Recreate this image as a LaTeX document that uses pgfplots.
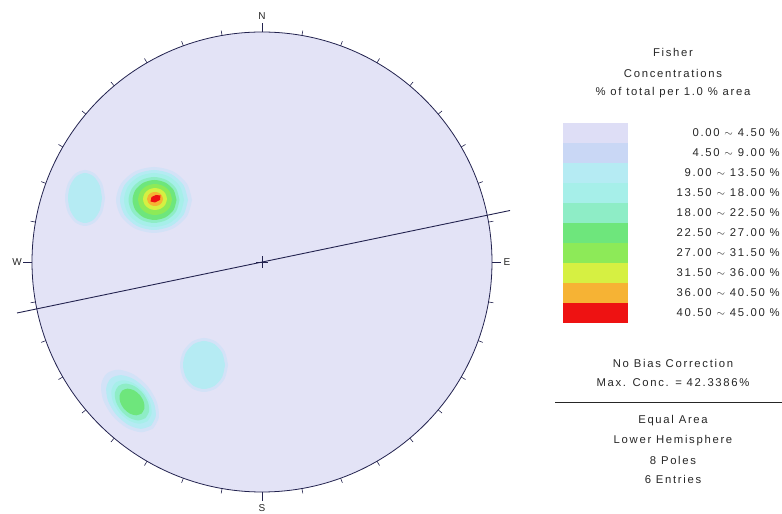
\documentclass[border=0pt]{standalone}
\usepackage{fontspec}
\setmainfont{Liberation Sans}
\newfontfamily\lgf[LetterSpace=15]{Liberation Sans}
\usepackage{pgfplots}
\pgfplotsset{compat=1.18}
\usetikzlibrary{calc}
\definecolor{bg}{HTML}{E3E3F6}
\definecolor{c1}{HTML}{DEDEF6}
\definecolor{c2}{HTML}{C9D7F5}
\definecolor{c2b}{HTML}{D3E2F7}
\definecolor{c3}{HTML}{B5EBF3}
\definecolor{c4}{HTML}{A6EFE9}
\definecolor{c5}{HTML}{8EEDC6}
\definecolor{c6}{HTML}{6EE67C}
\definecolor{c7}{HTML}{8DEA58}
\definecolor{c8}{HTML}{D6F042}
\definecolor{c9}{HTML}{F6B334}
\definecolor{c10}{HTML}{EE1212}
\definecolor{net}{HTML}{23234F}
\definecolor{txt}{HTML}{262626}
\begin{document}
\begin{tikzpicture}
\useasboundingbox (0,0) rectangle (782pt,514pt);
\begin{axis}[at={(0,0)}, anchor=south west, width=782pt, height=514pt, scale only axis,
  xmin=0, xmax=782, ymin=0, ymax=514, hide axis, clip=false]
\fill[bg] (axis cs:262,252) circle[radius=230pt];
% ---- blob 1 (main cluster)
\addplot[fill=c2b, draw=none, smooth] coordinates {(192,314) (186.9,330.5) (173,342.6) (154,347) (135,342.6) (121.1,330.5) (116,314) (121.1,297.5) (135,285.4) (154,281) (173,285.4) (186.9,297.5) (192,314)};
\addplot[fill=c3, draw=none, smooth] coordinates {(188,314) (183.4,329) (171,340) (154,344) (137,340) (124.6,329) (120,314) (124.6,299) (137,288) (154,284) (171,288) (183.4,299) (188,314)};
\addplot[fill=c4, draw=none, smooth] coordinates {(184,314) (180,327.5) (169,337.4) (154,341) (139,337.4) (128,327.5) (124,314) (128,300.5) (139,290.6) (154,287) (169,290.6) (180,300.5) (184,314)};
\addplot[fill=c5, draw=none, smooth] coordinates {(179.5,314) (176.1,325.5) (166.75,333.9) (154,337) (141.25,333.9) (131.9,325.5) (128.5,314) (131.9,302.5) (141.25,294.1) (154,291) (166.75,294.1) (176.1,302.5) (179.5,314)};
\addplot[fill=c6, draw=none, smooth] coordinates {(176.5,314) (173.55,324) (165.5,331.3) (154.5,334) (143.5,331.3) (135.45,324) (132.5,314) (135.45,304) (143.5,296.7) (154.5,294) (165.5,296.7) (173.55,304) (176.5,314)};
\addplot[fill=c7, draw=none, smooth] coordinates {(172,314.5) (169.7,322.25) (163.5,327.9) (155,330) (146.5,327.9) (140.3,322.25) (138,314.5) (140.3,306.75) (146.5,301.1) (155,299) (163.5,301.1) (169.7,306.75) (172,314.5)};
\addplot[fill=c8, draw=none, smooth] coordinates {(167,315) (165.4,320.5) (161,324.5) (155,326) (149,324.5) (144.6,320.5) (143,315) (144.6,309.5) (149,305.5) (155,304) (161,305.5) (165.4,309.5) (167,315)};
\addplot[fill=c9, draw=none, smooth] coordinates {(163,315) (161.9,318.5) (159,321.1) (155,322) (151,321.1) (148.1,318.5) (147,315) (148.1,311.5) (151,308.9) (155,308) (159,308.9) (161.9,311.5) (163,315)};
\addplot[fill=c10, draw=none] coordinates {(150.5,312.5) (151.5,317) (156,319) (160.5,318.5) (160,314) (155,311.5)};
% ---- blob 2 (left)
\addplot[fill=c2b, draw=none, smooth] coordinates {(105,316) (102.3,330) (95,340.2) (85,344) (75,340.2) (67.7,330) (65,316) (67.7,302) (75,291.8) (85,288) (95,291.8) (102.3,302) (105,316)};
\addplot[fill=c3, draw=none, smooth] coordinates {(102,316) (99.7,328.5) (93.5,337.7) (85,341) (76.5,337.7) (70.3,328.5) (68,316) (70.3,303.5) (76.5,294.3) (85,291) (93.5,294.3) (99.7,303.5) (102,316)};
% ---- blob 3 (lower middle)
\addplot[fill=c2b, draw=none, smooth] coordinates {(228,149) (224.8,162.5) (216,172.4) (204,176) (192,172.4) (183.2,162.5) (180,149) (183.2,135.5) (192,125.6) (204,122) (216,125.6) (224.8,135.5) (228,149)};
\addplot[fill=c3, draw=none, smooth] coordinates {(225,149) (222.2,161) (214.5,169.8) (204,173) (193.5,169.8) (185.8,161) (183,149) (185.8,137) (193.5,128.2) (204,125) (214.5,128.2) (222.2,137) (225,149)};
% ---- blob 4 (lower left)
\addplot[fill=c2b, draw=none, smooth] coordinates {(153.15,85.42) (158.86,96.52) (156.84,112.02) (147.62,127.79) (133.68,139.6) (118.76,144.28) (106.85,140.58) (101.14,129.48) (103.16,113.98) (112.38,98.21) (126.32,86.4) (141.24,81.72) (153.15,85.42)};
\addplot[fill=c3, draw=none, smooth] coordinates {(150.93,88.25) (155.73,97.7) (153.91,110.98) (145.94,124.54) (133.97,134.74) (121.21,138.84) (111.07,135.75) (106.27,126.3) (108.09,113.02) (116.06,99.46) (128.03,89.26) (140.79,85.16) (150.93,88.25)};
\addplot[fill=c4, draw=none, smooth] coordinates {(147.58,92.85) (151.56,100.57) (150.16,111.33) (143.76,122.29) (134.08,130.49) (123.7,133.73) (115.42,131.15) (111.44,123.43) (112.84,112.67) (119.24,101.71) (128.92,93.51) (139.3,90.27) (147.58,92.85)};
\addplot[fill=c5, draw=none, smooth] coordinates {(145.5,95.91) (149.05,102.57) (148.03,111.74) (142.72,121) (134.53,127.84) (125.67,130.43) (118.5,128.09) (114.95,121.43) (115.97,112.26) (121.28,103) (129.47,96.16) (138.33,93.57) (145.5,95.91)};
\addplot[fill=c6, draw=none, smooth] coordinates {(141.65,100.51) (144.38,105.43) (143.79,112.1) (140.04,118.75) (134.13,123.6) (127.66,125.33) (122.35,123.49) (119.62,118.57) (120.21,111.9) (123.96,105.25) (129.87,100.4) (136.34,98.67) (141.65,100.51)};
% ---- net outline and great circle
\draw[net, line width=0.8pt] (axis cs:262,252) circle[radius=230pt];
\addplot[net, line width=0.9pt] coordinates {(17,201) (510,303.5)};
\coordinate (C) at (axis cs:262,252);
% ---- legend swatches
\addplot[fill=c1, draw=none] coordinates {(563,391) (628,391) (628,371) (563,371)};
\addplot[fill=c2, draw=none] coordinates {(563,371) (628,371) (628,351) (563,351)};
\addplot[fill=c3, draw=none] coordinates {(563,351) (628,351) (628,331) (563,331)};
\addplot[fill=c4, draw=none] coordinates {(563,331) (628,331) (628,311) (563,311)};
\addplot[fill=c5, draw=none] coordinates {(563,311) (628,311) (628,291) (563,291)};
\addplot[fill=c6, draw=none] coordinates {(563,291) (628,291) (628,271) (563,271)};
\addplot[fill=c7, draw=none] coordinates {(563,271) (628,271) (628,251) (563,251)};
\addplot[fill=c8, draw=none] coordinates {(563,251) (628,251) (628,231) (563,231)};
\addplot[fill=c9, draw=none] coordinates {(563,231) (628,231) (628,211) (563,211)};
\addplot[fill=c10, draw=none] coordinates {(563,211) (628,211) (628,191) (563,191)};
\addplot[txt, line width=0.9pt] coordinates {(555,112) (782,112)};
\end{axis}
\foreach \a in {0,10,...,350} \draw[net, line width=0.6pt] (C) ++(\a:230pt) -- ++(\a:5pt);
\foreach \a in {0,90,180,270} \draw[net, line width=0.8pt] (C) ++(\a:230pt) -- ++(\a:9pt);
\draw[net, line width=0.9pt] (C) ++(-6pt,0) -- ++(12pt,0) (C) ++(0,-6pt) -- ++(0,12pt);
\begin{scope}[every node/.style={font=\lgf\fontsize{10}{11}\selectfont, text=txt, inner sep=0pt}]
\node at ($(C)+(0,246pt)$) {N};
\node at ($(C)+(0,-246pt)$) {S};
\node at ($(C)+(-245pt,0)$) {W};
\node at ($(C)+(245pt,0)$) {E};
\end{scope}
\begin{scope}[every node/.style={font=\lgf\fontsize{11.3}{13}\selectfont, text=txt, inner sep=0pt}]
\node at (673pt,462pt) {Fisher};
\node at (673pt,441pt) {Concentrations};
\node at (673pt,421pt) {\% of total per 1.0 \% area};
\node[anchor=east] at (780pt,381pt) {0.00 $\sim$ 4.50 \%};
\node[anchor=east] at (780pt,361pt) {4.50 $\sim$ 9.00 \%};
\node[anchor=east] at (780pt,341pt) {9.00 $\sim$ 13.50 \%};
\node[anchor=east] at (780pt,321pt) {13.50 $\sim$ 18.00 \%};
\node[anchor=east] at (780pt,301pt) {18.00 $\sim$ 22.50 \%};
\node[anchor=east] at (780pt,281pt) {22.50 $\sim$ 27.00 \%};
\node[anchor=east] at (780pt,261pt) {27.00 $\sim$ 31.50 \%};
\node[anchor=east] at (780pt,241pt) {31.50 $\sim$ 36.00 \%};
\node[anchor=east] at (780pt,221pt) {36.00 $\sim$ 40.50 \%};
\node[anchor=east] at (780pt,201pt) {40.50 $\sim$ 45.00 \%};
\node at (673pt,151pt) {No Bias Correction};
\node at (673pt,131pt) {Max. Conc. = 42.3386\%};
\node at (673pt,93pt) {Equal Area};
\node at (673pt,73pt) {Lower Hemisphere};
\node at (673pt,54pt) {8 Poles};
\node at (673pt,35pt) {6 Entries};
\end{scope}
\end{tikzpicture}
\end{document}
